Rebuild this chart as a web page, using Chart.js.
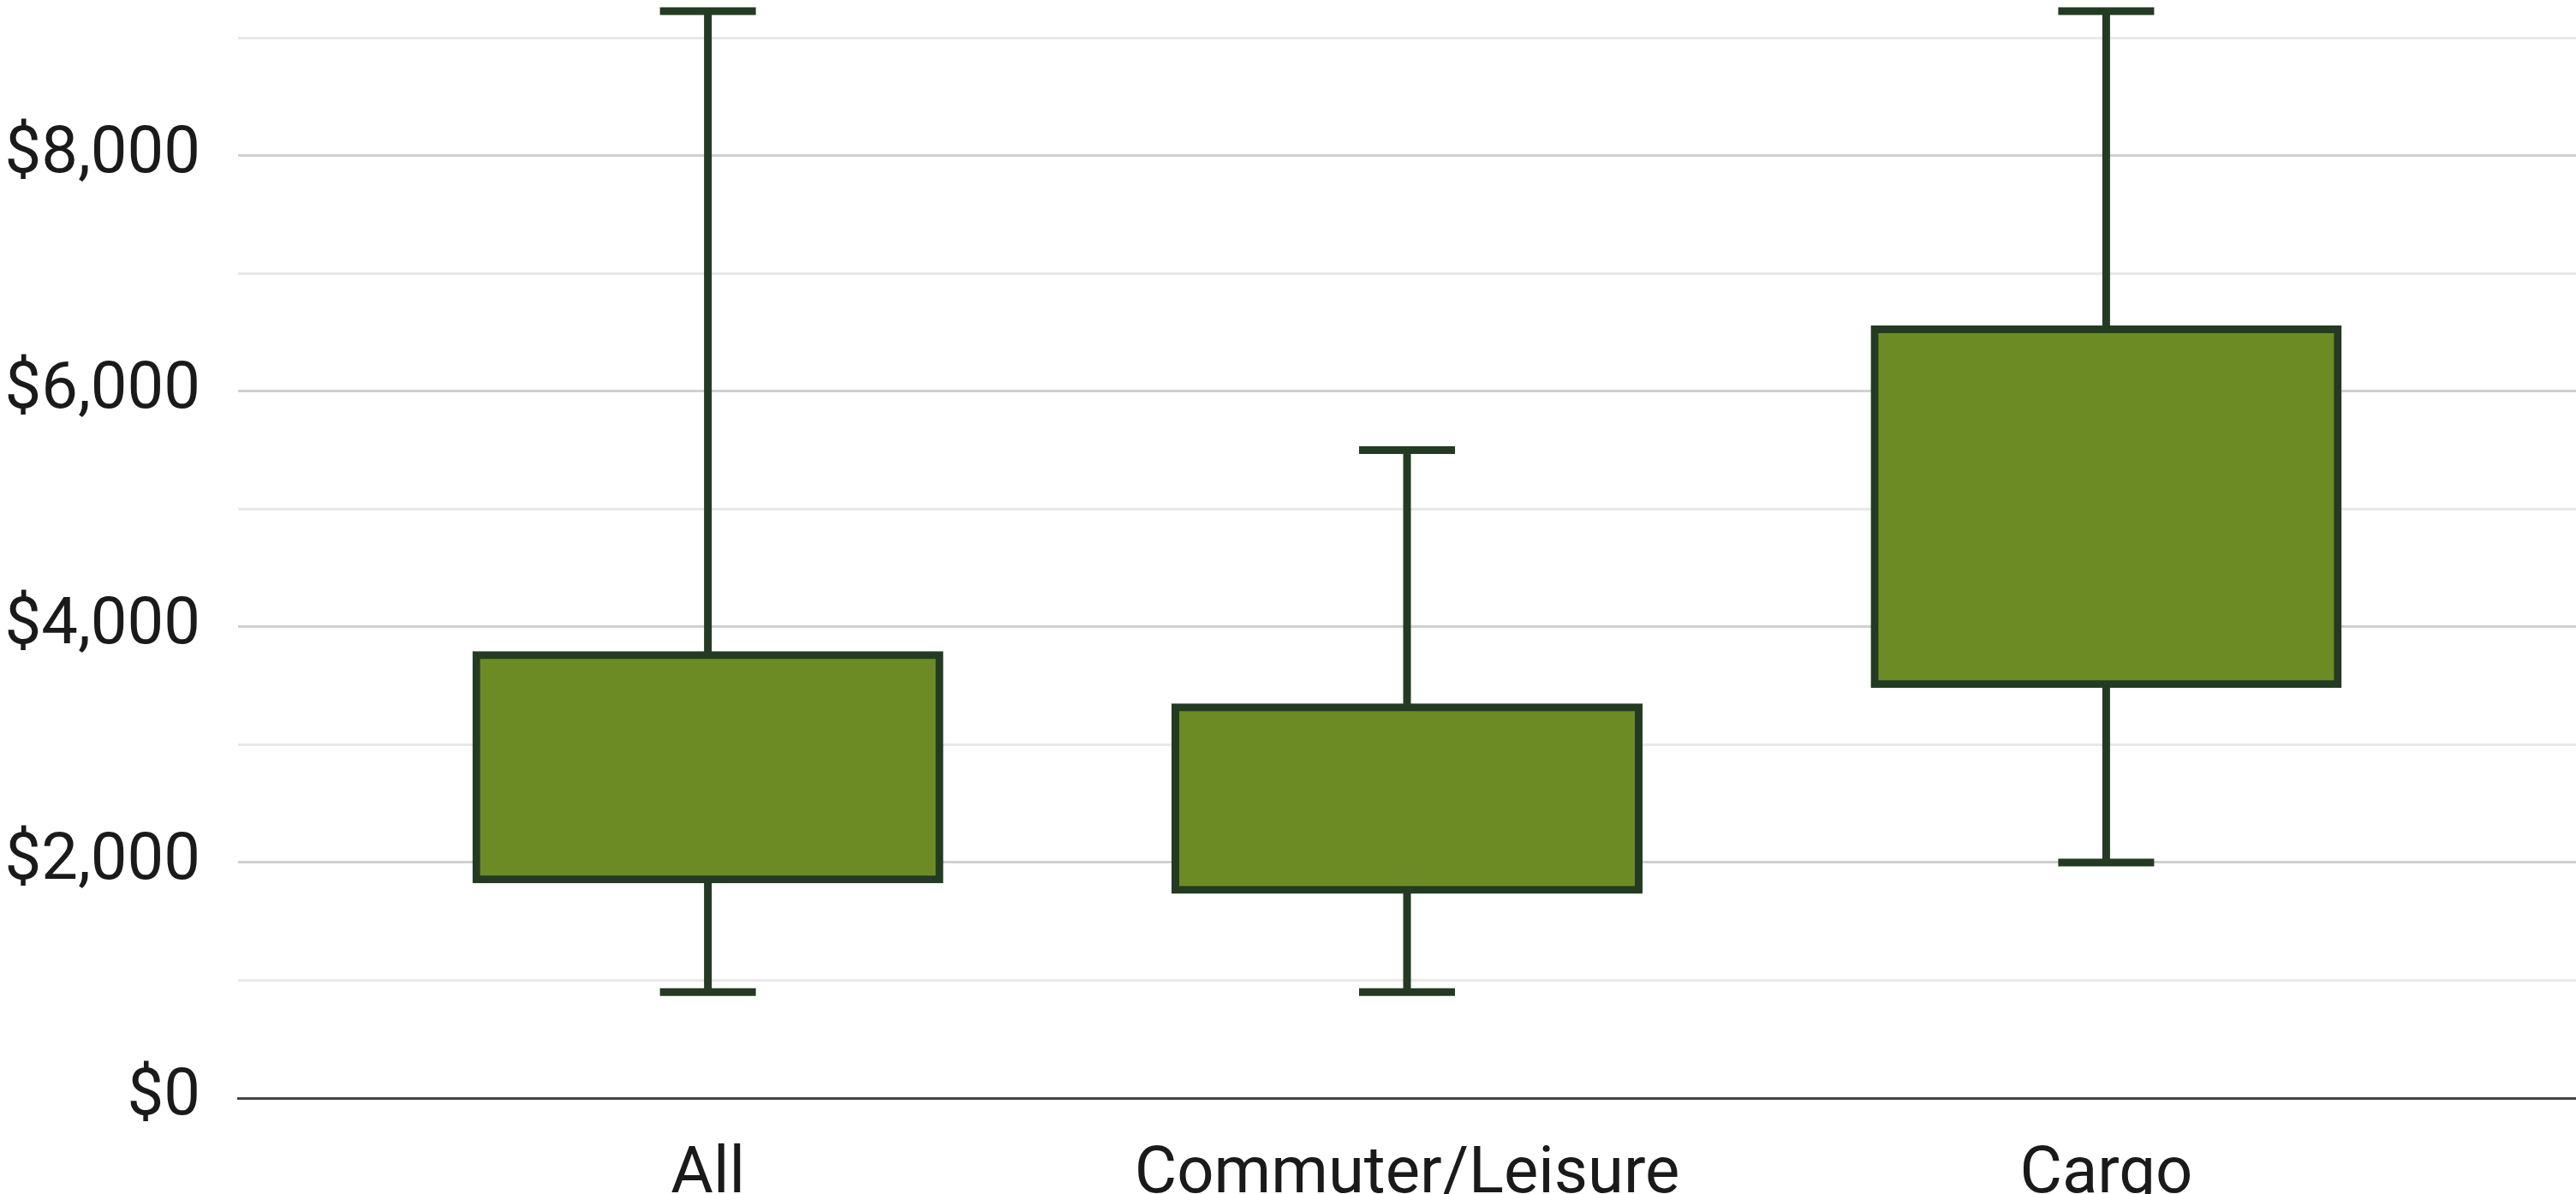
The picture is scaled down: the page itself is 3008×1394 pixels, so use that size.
<!DOCTYPE html>
<html>
<head>
<meta charset="utf-8">
<script src="https://cdn.jsdelivr.net/npm/chart.js@4"></script>
<style>
    html, body { margin: 0; padding: 0; background: #fff; overflow: hidden; }
    #wrap { width: 3008px; height: 1394px; }
</style>
</head>
<body>
<div id="wrap"><canvas id="boxChart" width="3008" height="1394"></canvas></div>
<script>
/* Box plot — fare by category */
Chart.defaults.font.family = 'Roboto';
Chart.defaults.color = '#1a1a1a';

const categories  = ['All', 'Commuter/Leisure', 'Cargo'];
const whiskerLow  = [900, 900, 2000];
const q1          = [1855, 1767, 3513];
const q3          = [3760, 3316, 6524];
const whiskerHigh = [9225, 5500, 9225];

const FILL = '#6d8b25';
const DARK = '#233b22';

const boxes    = categories.map((c, i) => ({ x: i, y: [q1[i], q3[i]] }));
const whiskers = categories.map((c, i) => ({ x: i, y: [whiskerLow[i], whiskerHigh[i]] }));
const caps     = categories.flatMap((c, i) => [{ x: i, y: whiskerLow[i] }, { x: i, y: whiskerHigh[i] }]);

function money(v) {
    return v % 2000 === 0 ? '$' + v.toLocaleString('en-US') : '';
}

function gridColor(ctx) {
    const v = ctx.tick ? ctx.tick.value : 0;
    if (v === 0) return 'rgba(0,0,0,0)';
    return v % 2000 === 0 ? '#d0d0d0' : '#e8e8e8';
}

new Chart(document.getElementById('boxChart').getContext('2d'), {
    type: 'bar',
    data: {
        datasets: [
            { data: boxes, backgroundColor: FILL, borderColor: DARK, borderWidth: 9, borderSkipped: false,
              inflateAmount: 4.5, barThickness: 541, grouped: false, order: 1, clip: false },
            { data: whiskers, backgroundColor: DARK, borderWidth: 0, barThickness: 9, grouped: false,
              inflateAmount: 0, order: 2, clip: false },
            { type: 'scatter', data: caps, pointStyle: 'line', pointRadius: 56, pointHoverRadius: 56,
              pointBorderWidth: 9, pointBorderColor: DARK, borderColor: DARK, order: 0, clip: false }
        ]
    },
    options: {
        responsive: false,
        animation: false,
        events: [],
        layout: { padding: { top: 44, left: 0, right: 0, bottom: 0 }, autoPadding: false },
        plugins: { legend: { display: false }, tooltip: { enabled: false } },
        scales: {
            x: {
                type: 'linear', min: -0.672, max: 2.672, offset: false,
                afterBuildTicks: s => { s.ticks = categories.map((c, i) => ({ value: i })); },
                afterFit: s => { s.height = 112; s.paddingLeft = 0; s.paddingRight = 0; },
                grid: { display: false, drawTicks: false, offset: false },
                border: { display: true, color: '#444', width: 3 },
                ticks: { padding: 45, font: { size: 76 }, maxRotation: 0, autoSkip: false,
                         callback: v => categories[v] }
            },
            y: {
                min: 0, max: 9000,
                // labels at the top/bottom shouldn't push the plot area in
                afterFit: s => { s.width = 278; s.paddingTop = 0; s.paddingBottom = 0; },
                grid: { color: gridColor, lineWidth: 3, drawTicks: false },
                border: { display: false },
                ticks: { stepSize: 1000, padding: 44, font: { size: 76 }, callback: money }
            }
        }
    }
});
</script>
</body>
</html>
